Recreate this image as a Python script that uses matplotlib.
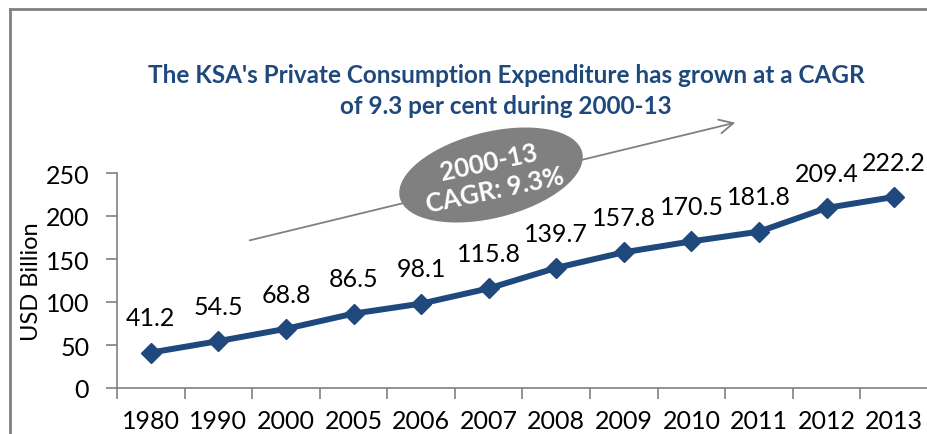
import matplotlib
matplotlib.use("Agg")
import matplotlib.pyplot as plt
from matplotlib.patches import Ellipse
from matplotlib.lines import Line2D

plt.rcParams['font.family'] = ['Lato', 'DejaVu Sans']

years = ['1980', '1990', '2000', '2005', '2006', '2007', '2008',
         '2009', '2010', '2011', '2012', '2013']
spend = [41.2, 54.5, 68.8, 86.5, 98.1, 115.8, 139.7,
         157.8, 170.5, 181.8, 209.4, 222.2]
yticks = [0, 50, 100, 150, 200, 250]

blue = '#1f497d'
grey = '#808080'

fig = plt.figure(figsize=(9.28, 4.35), dpi=100)
ax = fig.add_axes([117 / 928, 46 / 435, 811 / 928, 215 / 435])

x = list(range(len(years)))
ax.plot(x, spend, color=blue, linewidth=4.3, marker='D', markersize=10,
        clip_on=False, zorder=3)
for xi, v in zip(x, spend):
    ax.annotate(f'{v:.1f}', (xi, v), xytext=(0, 25), textcoords='offset points',
                ha='center', va='center', fontsize=18, color='black')

ax.set_xlim(-0.5, len(years) - 0.5)
ax.set_ylim(0, 250)
ax.set_yticks(yticks)
ax.set_xticks(x)
ax.set_xticklabels(years)
ax.set_xticks([i - 0.5 for i in range(len(years) + 1)], minor=True)
ax.tick_params(axis='x', which='major', length=0, pad=15, labelsize=18)
ax.tick_params(axis='x', which='minor', length=8, color=grey, width=1.2)
ax.tick_params(axis='y', length=8, color=grey, width=1.2, pad=12, labelsize=18)

for s in ['top', 'right']:
    ax.spines[s].set_visible(False)
for s in ['left', 'bottom']:
    ax.spines[s].set_color(grey)
    ax.spines[s].set_linewidth(1.2)

ax.set_ylabel('USD Billion', fontsize=17)
ax.yaxis.set_label_coords(-(117 - 42) / 811, 0.5)

# outer frame (top and left edges only visible)
fig.add_artist(Line2D([10 / 928, 10 / 928], [0, 1 - 10 / 435], color=grey, lw=2))
fig.add_artist(Line2D([10 / 928, 1], [1 - 10 / 435, 1 - 10 / 435], color=grey, lw=2))

fig.text(506 / 928, 1 - 91 / 435,
         "The KSA's Private Consumption Expenditure has grown at a CAGR\n"
         "of 9.3 per cent during 2000-13",
         ha='center', va='center', fontsize=17.5, fontweight='bold',
         color=blue, linespacing=1.45)

# trend arrow and CAGR bubble
ax.annotate('', xy=(738 / 928, 1 - 123 / 435), xycoords='figure fraction',
            xytext=(247 / 928, 1 - 242 / 435), textcoords='figure fraction',
            arrowprops=dict(arrowstyle='->,head_length=1.0,head_width=0.5',
                            color=grey, lw=1.3), annotation_clip=False)
bubble = Ellipse((491, 435 - 176), 188, 86, angle=14, transform=None,
                 facecolor=grey, edgecolor='none', zorder=5)
fig.add_artist(bubble)
fig.text(492 / 928, 1 - 177 / 435, '2000-13\nCAGR: 9.3%', ha='center',
         va='center', fontsize=18.5, fontweight='bold', color='white',
         rotation=12, linespacing=1.2, zorder=6)

fig.savefig('out.png', dpi=100)
